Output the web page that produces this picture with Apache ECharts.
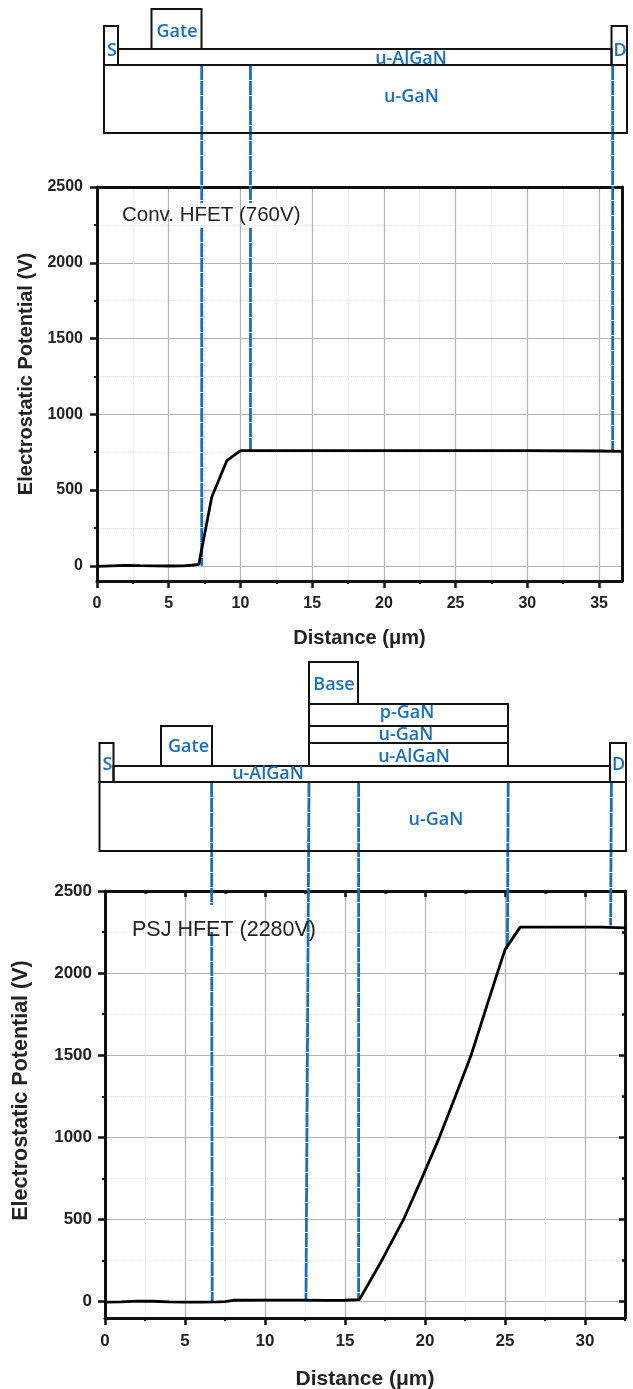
<!DOCTYPE html>
<html>
<head>
<meta charset="utf-8">
<title>Electrostatic Potential</title>
<script src="https://cdn.jsdelivr.net/npm/echarts@6/dist/echarts.min.js"></script>
<style>
html, body { margin: 0; padding: 0; background: #fff; }
#chart { width: 633px; height: 1389px; }
</style>
</head>
<body>
<div id="chart"></div>
<script>
// curve values
let conv = [[0, -3], [1, 0], [2, 3], [3, 1], [5, -1], [6, 0], [6.6, 4], [7.1, 10], [8, 454], [9.05, 694], [10, 760], [15, 760], [20, 760], [25, 760], [30, 760], [35, 758], [36.6, 755]];
let psj = [[0, -3], [1, -2], [2, 3], [3, 2], [4, -2], [5, -3], [6, -3], [7, -2], [7.5, 0], [8, 8], [10, 9], [12, 9], [14, 7], [15, 8], [15.9, 12], [17.2, 233], [18.66, 500], [19.8, 750], [20.9, 1000], [21.9, 1250], [22.88, 1500], [23.7, 1750], [24.52, 2000], [25, 2143], [25.95, 2280], [28, 2280], [31, 2280], [32.5, 2275]];

let xMajor1 = [0, 5, 10, 15, 20, 25, 30, 35];
let xMinor1 = [2.5, 7.5, 12.5, 17.5, 22.5, 27.5, 32.5];
let xMajor2 = [0, 5, 10, 15, 20, 25, 30];
let xMinor2 = [2.5, 7.5, 12.5, 17.5, 22.5, 27.5, 32.5];
let yMajor = [0, 500, 1000, 1500, 2000, 2500];
let yMinor = [250, 750, 1250, 1750, 2250];

// blue guide lines: x where they meet the plot, x up in the schematic, y where they stop
let guideX1 = [7.3, 10.7, 35.95];
let guideTopX1 = [7.3, 10.7, 35.95];
let guideEnd1 = [0, 760, 760];
let guideX2 = [6.7, 12.56, 15.85, 25.15, 31.6];
let guideTopX2 = [6.66, 12.75, 15.85, 25.2, 31.65];
let guideEnd2 = [0, 0, 10, 2150, 2290];

const BLUE = '#1a70b8';
const FONT = '"Liberation Sans", Arial, sans-serif';
const LABEL_FONT = '"Open Sans", sans-serif';

let grids = [
    {left: 97, top: 187, width: 525, height: 394, outerBoundsMode: 'none'},
    {left: 105, top: 891, width: 520, height: 427, outerBoundsMode: 'none'}
];

function lineAxis(gridIndex, position, min, max, extra) {
    let a = {
        type: 'value',
        gridIndex: gridIndex,
        position: position,
        min: min,
        max: max,
        axisLine: {show: true, onZero: false, lineStyle: {color: '#111', width: 3}},
        axisTick: {show: false},
        axisLabel: {show: false},
        splitLine: {show: false}
    };
    return Object.assign(a, extra || {});
}
function majorAxis(gridIndex, position, min, max, ticks, nameText, nameGap, nameSize, labelSize, margin) {
    return lineAxis(gridIndex, position, min, max, {
        name: nameText,
        nameLocation: 'middle',
        nameGap: nameGap,
        nameTextStyle: {fontFamily: FONT, fontWeight: 'bold', fontSize: nameSize, color: '#222'},
        axisTick: {show: true, length: 7, inside: false, customValues: ticks, lineStyle: {color: '#111', width: 2.5}},
        axisLabel: {show: true, margin: margin, customValues: ticks, formatter: function (v) { return String(v); }, fontFamily: FONT, fontWeight: 'bold', fontSize: labelSize, color: '#222'},
        splitLine: {show: true, lineStyle: {color: '#b4b4b4', width: 1.2}}
    });
}
function minorAxis(gridIndex, position, min, max, ticks) {
    return lineAxis(gridIndex, position, min, max, {
        axisLine: {show: false, onZero: false},
        axisTick: {show: true, length: 3, inside: false, customValues: ticks, lineStyle: {color: '#111', width: 2}},
        splitLine: {show: true, lineStyle: {color: '#e6e6e6', width: 1, type: 'dotted'}}
    });
}
function insideAxis(gridIndex, position, min, max, ticks, len) {
    return lineAxis(gridIndex, position, min, max, {
        axisLine: {show: false, onZero: false},
        axisTick: {show: true, length: len, inside: true, customValues: ticks, lineStyle: {color: '#111', width: 2.5}}
    });
}

let xAxes = [
    majorAxis(0, 'bottom', 0, 36.6, xMajor1, 'Distance (\u03bcm)', 47, 20, 16, 15),
    minorAxis(0, 'bottom', 0, 36.6, xMinor1),
    lineAxis(0, 'top', 0, 36.6),
    majorAxis(1, 'bottom', 0, 32.5, xMajor2, 'Distance (\u03bcm)', 51, 21, 17, 15),
    minorAxis(1, 'bottom', 0, 32.5, xMinor2),
    lineAxis(1, 'top', 0, 32.5),
    insideAxis(1, 'top', 0, 32.5, xMajor2, 6),
    insideAxis(1, 'top', 0, 32.5, xMinor2, 3)
];
let yAxes = [
    majorAxis(0, 'left', -100, 2500, yMajor, 'Electrostatic Potential (V)', 58, 20, 16, 14),
    minorAxis(0, 'left', -100, 2500, yMinor),
    lineAxis(0, 'right', -100, 2500),
    majorAxis(1, 'left', -100, 2500, yMajor, 'Electrostatic Potential (V)', 73, 21.5, 17, 13),
    minorAxis(1, 'left', -100, 2500, yMinor),
    lineAxis(1, 'right', -100, 2500),
    insideAxis(1, 'right', -100, 2500, yMajor, 6),
    insideAxis(1, 'right', -100, 2500, yMinor, 3)
];
yAxes[0].nameTextStyle.padding = [0, 0, 0, 20];
yAxes[3].nameTextStyle.padding = [0, 0, 0, 28];

let option = {
    animation: false,
    backgroundColor: '#fff',
    grid: grids,
    xAxis: xAxes,
    yAxis: yAxes,
    series: [
        {type: 'line', xAxisIndex: 0, yAxisIndex: 0, data: conv, showSymbol: false, lineStyle: {color: '#000', width: 2.8}, z: 5},
        {type: 'line', xAxisIndex: 3, yAxisIndex: 3, data: psj, showSymbol: false, lineStyle: {color: '#000', width: 2.8}, z: 5}
    ]
};

let chart = echarts.init(document.getElementById('chart'), null, {renderer: 'canvas'});
chart.setOption(option);

// device schematics above the plots, page pixels: [x0, y0, x1, y1]
let boxes = [
    [104, 26, 118, 65], [151.5, 9, 201.5, 49], [118, 49, 611.5, 65], [611.5, 26, 627, 65], [104, 65, 627, 133],
    [99.5, 743, 113.5, 782], [161, 726, 212, 766], [113.5, 766, 610, 782], [610, 743, 626, 782], [99.5, 782, 626, 851],
    [309, 662, 358, 704], [309, 704, 508, 726], [309, 726, 508, 743], [309, 743, 508, 766]
];
let labels = [
    ['Gate', 177, 31], ['S', 112, 50], ['D', 620, 50], ['u-AlGaN', 411, 58], ['u-GaN', 411.5, 96],
    ['Base', 334, 684], ['p-GaN', 407, 712], ['u-GaN', 406, 734], ['u-AlGaN', 414, 756],
    ['Gate', 188.5, 746], ['S', 107.5, 764], ['D', 618.5, 764], ['u-AlGaN', 268, 773], ['u-GaN', 436, 819]
];

function guideLine(x1, y1, x2, y2) {
    return {type: 'line', z: 1, shape: {x1: x1, y1: y1, x2: x2, y2: y2},
        style: {stroke: BLUE, lineWidth: 2.8, lineDash: [14, 1]}};
}
function guides(xs, topXs, ends, axisIndex, yStart, gaps) {
    let out = [];
    for (let i = 0; i < xs.length; i++) {
        let xTop = chart.convertToPixel({xAxisIndex: axisIndex}, topXs[i]);
        let xEnd = chart.convertToPixel({xAxisIndex: axisIndex}, xs[i]);
        let yEnd = chart.convertToPixel({yAxisIndex: axisIndex}, ends[i]);
        if (gaps[i]) {
            let xMid = xTop + (xEnd - xTop) * (gaps[i][0] - yStart) / (yEnd - yStart);
            out.push(guideLine(xTop, yStart, xMid, gaps[i][0]));
            out.push(guideLine(xMid, gaps[i][1], xEnd, yEnd));
        } else {
            out.push(guideLine(xTop, yStart, xEnd, yEnd));
        }
    }
    return out;
}

let graphic = [];
boxes.forEach(function (b) {
    graphic.push({type: 'rect', z: 3, shape: {x: b[0], y: b[1], width: b[2] - b[0], height: b[3] - b[1]},
        style: {fill: 'none', stroke: '#111', lineWidth: 2}});
});
labels.forEach(function (t) {
    graphic.push({type: 'text', z: 4, x: t[1], y: t[2] + 1,
        style: {text: t[0], fill: BLUE, font: '600 18px ' + LABEL_FONT, textAlign: 'center', textVerticalAlign: 'middle'}});
});
graphic = graphic.concat(guides(guideX1, guideTopX1, guideEnd1, 0, 66, [[203, 228], [203, 228], null]));
graphic = graphic.concat(guides(guideX2, guideTopX2, guideEnd2, 3, 783, [[905, 932], null, null, null, null]));
graphic.push({type: 'text', z: 4, x: 122, y: 215,
    style: {text: 'Conv. HFET (760V)', fill: '#222', font: '20.5px ' + FONT, textVerticalAlign: 'middle'}});
graphic.push({type: 'text', z: 4, x: 132, y: 930,
    style: {text: 'PSJ HFET (2280V)', fill: '#222', font: '21.5px ' + FONT, textVerticalAlign: 'middle'}});

chart.setOption({graphic: graphic});
</script>
</body>
</html>
